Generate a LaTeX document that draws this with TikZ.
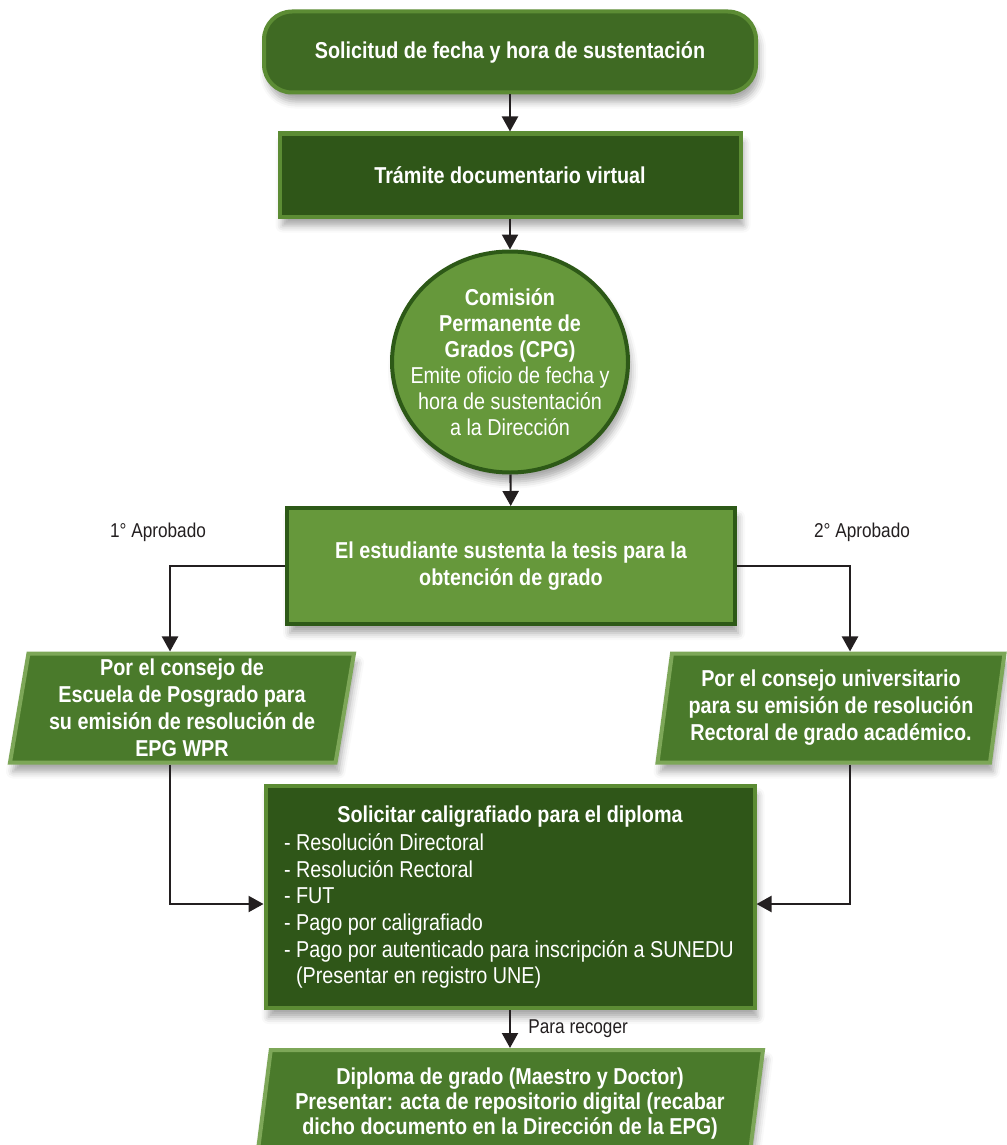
\documentclass[tikz,border=0pt]{standalone}
\usepackage{fontspec}
\setmainfont{Liberation Sans}[FakeStretch=0.86]
\usetikzlibrary{arrows.meta,shapes.geometric,shadows.blur,positioning}

\definecolor{verdeosc}{RGB}{47,86,24}
\definecolor{verdemed}{RGB}{63,106,35}
\definecolor{verdecla}{RGB}{102,152,59}
\definecolor{verdepar}{RGB}{74,122,43}
\definecolor{bordecla}{RGB}{92,140,52}
\definecolor{bordeosc}{RGB}{45,89,23}
\definecolor{flecha}{RGB}{35,31,32}

\tikzset{
  sombra/.style={blur shadow={shadow xshift=3pt, shadow yshift=-9pt,
      shadow blur radius=7pt, shadow opacity=35}},
  caja/.style={sombra, line width=4pt, text=white, align=center,
      font=\bfseries\fontsize{23}{27}\selectfont},
  inicio/.style={caja, rounded corners=28pt, fill=verdemed, draw=bordecla},
  proceso/.style={caja, fill=verdeosc, draw=bordecla},
  decision/.style={caja, fill=verdecla, draw=bordeosc},
  comision/.style={caja, ellipse, fill=verdecla, draw=bordeosc,
      font=\fontsize{23}{26}\selectfont, inner xsep=-18pt, inner ysep=0pt},
  datos/.style={caja, trapezium, trapezium left angle=80, trapezium right angle=100,
      trapezium stretches body, fill=verdepar, draw=verdecla!85!white},
  flujo/.style={line width=2.2pt, draw=flecha, -{Triangle[width=16pt,length=15pt]}},
  etiqueta/.style={font=\fontsize{20}{24}\selectfont, text=flecha}
}

\begin{document}
\begin{tikzpicture}[x=1pt, y=-1pt]
  \useasboundingbox (0,0) rectangle (1006,1145);

  \node [inicio, minimum width=492pt, minimum height=81pt] (solicitud) at (510,52)
    {Solicitud de fecha y hora de sustentación};
  \node [proceso, minimum width=461pt, minimum height=83pt] (tramite) at (510,175)
    {Trámite documentario virtual};
  \node [comision, minimum width=236pt, minimum height=221pt] (cpg) at (510,362)
    {\textbf{Comisión}\\ \textbf{Permanente de}\\ \textbf{Grados (CPG)}\\
     Emite oficio de fecha y\\ hora de sustentación\\ a la Dirección};
  \node [decision, minimum width=448pt, minimum height=116pt] (sustenta) at (511,566)
    {El estudiante sustenta la tesis para la\\ obtención de grado};

  \node [datos, minimum width=344pt, minimum height=109pt] (consejoepg) at (182,708)
    {Por el consejo de\\ Escuela de Posgrado para\\ su emisión de resolución de\\ EPG WPR};
  \node [datos, minimum width=347pt, minimum height=109pt] (consejouni) at (831,708)
    {Por el consejo universitario\\ para su emisión de resolución\\ Rectoral de grado académico.};

  \node [proceso, minimum width=489pt, minimum height=222pt, align=left,
         font=\fontsize{23}{26.6}\selectfont] (caligrafiado) at (510,897)
    {\makebox[452pt]{\bfseries Solicitar caligrafiado para el diploma}\\[2pt]
     - Resolución Directoral\\
     - Resolución Rectoral\\
     - FUT\\
     - Pago por caligrafiado\\
     - Pago por autenticado para inscripción a SUNEDU\\
     \hphantom{- }(Presentar en registro UNE)};

  \node [datos, minimum width=506pt, minimum height=108pt, font=\bfseries\fontsize{23}{25}\selectfont]
    (diploma) at (510,1104)
    {Diploma de grado (Maestro y Doctor)\\ Presentar: acta de repositorio digital (recabar\\
     dicho documento en la Dirección de la EPG)};

  \node [etiqueta] (aprob1) at (158,532) {1° Aprobado};
  \node [etiqueta] (aprob2) at (862,532) {2° Aprobado};

  \draw [flujo] (solicitud) -- (tramite);
  \draw [flujo] (tramite) -- (cpg);
  \draw [flujo] (cpg) -- (sustenta);
  \draw [flujo] (sustenta.west) -| ([xshift=-12pt]consejoepg.north);
  \draw [flujo] (sustenta.east) -| ([xshift=19pt]consejouni.north);
  \draw [flujo] ([xshift=-12pt]consejoepg.south) |- ([yshift=-7pt]caligrafiado.west);
  \draw [flujo] ([xshift=19pt]consejouni.south) |- ([yshift=-7pt]caligrafiado.east);
  \draw [flujo] (caligrafiado) -- (diploma)
    node [midway, right=14pt, etiqueta] {Para recoger};
\end{tikzpicture}
\end{document}
